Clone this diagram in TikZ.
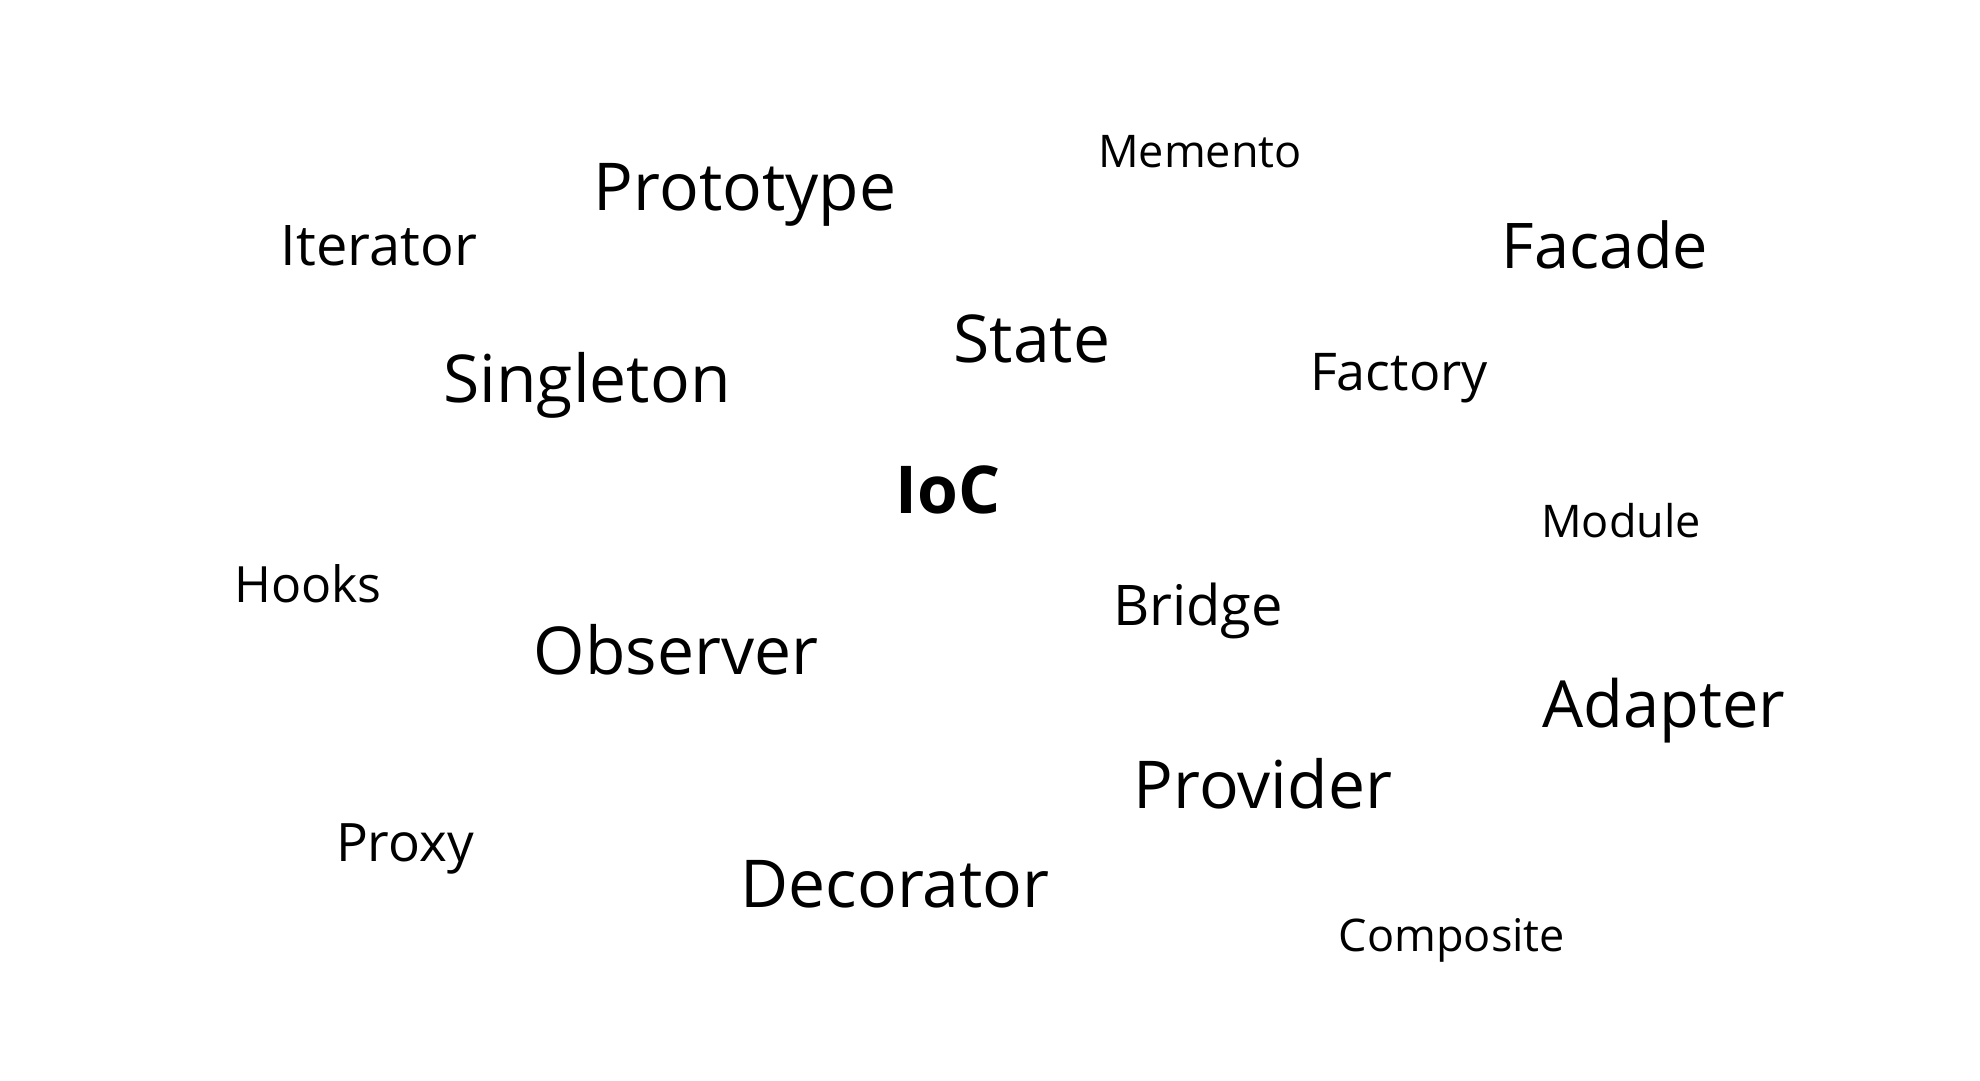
\documentclass[tikz,border=0pt]{standalone}
\usepackage{fontspec}
\setmainfont{Open Sans}
\begin{document}
\begin{tikzpicture}[x=1pt, y=-1pt]
	\tikzset{word/.style={anchor=base, inner sep=0pt, text=black}}
	\useasboundingbox[fill=white] (0,0) rectangle (1980,1080);
	% words of the cloud: x / baseline / size / text
	\foreach \px / \py / \sz / \w in {1200/167/45/Memento, 745/210/66/Prototype, 379/265/56/Iterator, 1605/268/63/Facade, 1032/362/66/State, 587/402/66/Singleton, 1399/390/52/Factory, 1621/537/45/Module, 308/602/50/Hooks, 1198/625/56/Bridge, 676/674/66/Observer, 1664/727/65/Adapter, 1263/808/66/Provider, 405/861/53/Proxy, 895/907/66/Decorator, 1452/951/45/Composite} {
		\node[word, font=\fontsize{\sz}{\sz}\selectfont] (\w) at (\px, \py) {\w};
	}
	\node[word, font=\fontsize{66}{66}\selectfont\bfseries] (IoC) at (948, 513) {IoC};
\end{tikzpicture}
\end{document}
